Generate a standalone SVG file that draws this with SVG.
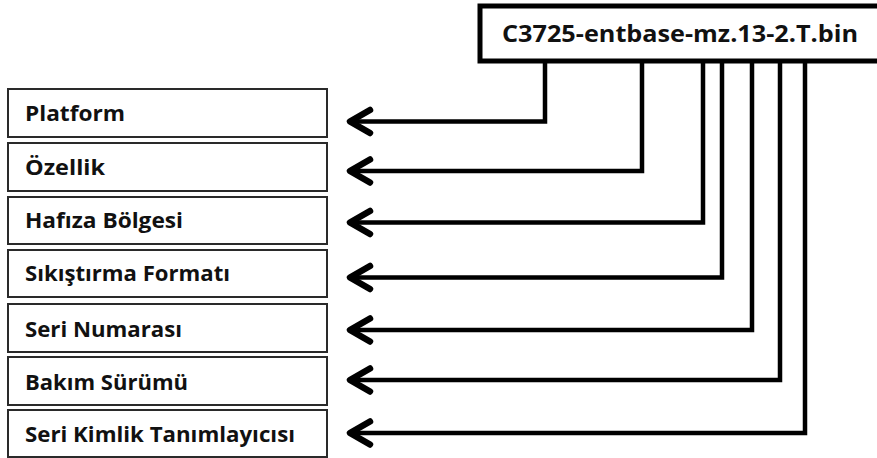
<svg xmlns="http://www.w3.org/2000/svg" width="877" height="458" viewBox="0 0 877 458">
  <style>
    .field rect { fill: #fff; stroke: #2a2a2a; stroke-width: 2; }
    .field text { font-family: "Open Sans", "Liberation Sans", sans-serif; font-weight: bold; font-size: 22px; fill: #111; }
    .source rect { fill: #fff; stroke: #000; stroke-width: 5; }
    .source text { font-family: "Open Sans", "Liberation Sans", sans-serif; font-weight: bold; font-size: 23px; fill: #111; }
    .wire { fill: none; stroke: #000; stroke-width: 4.5; stroke-linejoin: miter; }
    .head { fill: none; stroke: #000; stroke-width: 6.5; stroke-linecap: round; stroke-linejoin: round; }
  </style>

  <!-- file name being decoded -->
  <g id="filename" class="source">
    <rect x="480" y="6" width="405" height="55"/>
    <text x="502" y="42" textLength="356" lengthAdjust="spacingAndGlyphs">C3725-entbase-mz.13-2.T.bin</text>
  </g>

  <!-- name fields -->
  <g id="platform" class="field">
    <rect x="8" y="89" width="319" height="48"/>
    <text x="25" y="121" textLength="100" lengthAdjust="spacingAndGlyphs">Platform</text>
  </g>
  <g id="ozellik" class="field">
    <rect x="8" y="143" width="319" height="48"/>
    <text x="25" y="175" textLength="80" lengthAdjust="spacingAndGlyphs">Özellik</text>
  </g>
  <g id="hafiza" class="field">
    <rect x="8" y="197" width="319" height="47"/>
    <text x="25" y="228" textLength="158" lengthAdjust="spacingAndGlyphs">Hafıza Bölgesi</text>
  </g>
  <g id="sikistirma" class="field">
    <rect x="8" y="250" width="319" height="47"/>
    <text x="25" y="281" textLength="205" lengthAdjust="spacingAndGlyphs">Sıkıştırma Formatı</text>
  </g>
  <g id="seri-numarasi" class="field">
    <rect x="8" y="304" width="319" height="48"/>
    <text x="25" y="337" textLength="157" lengthAdjust="spacingAndGlyphs">Seri Numarası</text>
  </g>
  <g id="bakim" class="field">
    <rect x="8" y="357" width="319" height="48"/>
    <text x="25" y="390" textLength="163" lengthAdjust="spacingAndGlyphs">Bakım Sürümü</text>
  </g>
  <g id="seri-kimlik" class="field">
    <rect x="8" y="410" width="319" height="47"/>
    <text x="25" y="442" textLength="270" lengthAdjust="spacingAndGlyphs">Seri Kimlik Tanımlayıcısı</text>
  </g>

  <!-- connectors: drop from the file name, turn left, end in an open arrowhead -->
  <g id="connectors">
    <path class="wire" d="M545 63 V121.5 H352"/>
    <path class="wire" d="M642 63 V171 H352"/>
    <path class="wire" d="M703 63 V222.5 H352"/>
    <path class="wire" d="M722 63 V277.5 H352"/>
    <path class="wire" d="M752 63 V330 H352"/>
    <path class="wire" d="M780 63 V380 H352"/>
    <path class="wire" d="M805 63 V433 H352"/>

    <polyline class="head" points="370,110 350,121.5 370,133"/>
    <polyline class="head" points="370,159.5 350,171 370,182.5"/>
    <polyline class="head" points="370,211 350,222.5 370,234"/>
    <polyline class="head" points="370,266 350,277.5 370,289"/>
    <polyline class="head" points="370,318.5 350,330 370,341.5"/>
    <polyline class="head" points="370,368.5 350,380 370,391.5"/>
    <polyline class="head" points="370,421.5 350,433 370,444.5"/>
  </g>
</svg>
